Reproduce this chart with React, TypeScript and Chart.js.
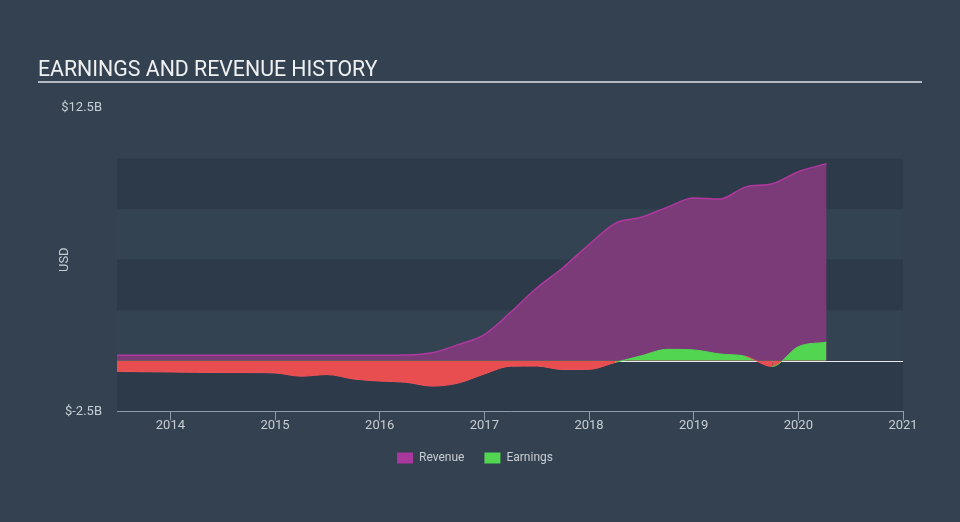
import React, { useEffect, useRef } from 'react';
import { Chart, registerables } from 'chart.js';

Chart.register(...registerables);

const TITLE = 'EARNINGS AND REVENUE HISTORY';
const AXIS_TITLE = 'USD';

// decimal years
const dates = [
  2013.49, 2013.75, 2014.0, 2014.25, 2014.5, 2014.75, 2015.0, 2015.25, 2015.5, 2015.75,
  2016.0, 2016.25, 2016.5, 2016.75, 2017.0, 2017.25, 2017.5, 2017.75, 2018.0, 2018.25,
  2018.5, 2018.75, 2019.0, 2019.25, 2019.5, 2019.75, 2020.0, 2020.27,
];

// billions USD
const revenue = [
  0.28, 0.28, 0.28, 0.28, 0.28, 0.28, 0.28, 0.28, 0.28, 0.28,
  0.28, 0.29, 0.4, 0.8, 1.3, 2.4, 3.6, 4.6, 5.75, 6.8,
  7.1, 7.6, 8.05, 8.0, 8.6, 8.75, 9.35, 9.75,
];

const earnings = [
  -0.52, -0.54, -0.55, -0.57, -0.58, -0.58, -0.6, -0.76, -0.68, -0.9,
  -1.0, -1.06, -1.25, -1.1, -0.65, -0.27, -0.26, -0.43, -0.42, -0.08,
  0.25, 0.57, 0.54, 0.34, 0.22, -0.28, 0.7, 0.92,
];

const yearTicks = [2014, 2015, 2016, 2017, 2018, 2019, 2020, 2021];
const yTicks = [-2.5, 12.5];
const darkBands: [number, number][] = [
  [10, 7.5],
  [5, 2.5],
  [0, -2.5],
];
const lightBands: [number, number][] = [
  [7.5, 5],
  [2.5, 0],
];

const X_MIN = 2013.49;
const X_MAX = 2021;
const Y_MIN = -2.5;
const Y_MAX = 12.5;

const BG = '#334150';
const LIGHT = '#344352';
const DARK = '#2d3a4a';
const TEXT = '#c9ced4';
const REV_FILL = '#7b3a78';
const REV_LINE = '#b0389f';
const REV_LEGEND = '#a8389c';
const EARN_POS = '#52d652';
const EARN_NEG = '#e84e50';
const FONT = 'Roboto';

const decor = {
  id: 'decor',
  beforeDraw(chart: any) {
    const { ctx, chartArea, scales } = chart;
    const y = scales.y;
    ctx.save();
    ctx.fillStyle = BG;
    ctx.fillRect(0, 0, chart.width, chart.height);
    const w = chartArea.right - chartArea.left;
    ctx.fillStyle = LIGHT;
    for (const [a, b] of lightBands) {
      const y0 = y.getPixelForValue(a);
      const y1 = y.getPixelForValue(b);
      ctx.fillRect(chartArea.left, y0, w, y1 - y0);
    }
    ctx.fillStyle = DARK;
    for (const [a, b] of darkBands) {
      const y0 = y.getPixelForValue(a);
      const y1 = y.getPixelForValue(b);
      ctx.fillRect(chartArea.left, y0, w, y1 - y0);
    }
    // title
    ctx.font = `400 21.3px ${FONT}`;
    ctx.fillStyle = '#eef0f2';
    ctx.textBaseline = 'alphabetic';
    ctx.textAlign = 'left';
    ctx.fillText(TITLE, 38, 76);
    ctx.strokeStyle = '#b5bac0';
    ctx.lineWidth = 2;
    ctx.beginPath();
    ctx.moveTo(38, 82);
    ctx.lineTo(922, 82);
    ctx.stroke();
    ctx.restore();
  },
  beforeDatasetsDraw(chart: any) {
    const { ctx, chartArea, scales } = chart;
    const yz = Math.round(scales.y.getPixelForValue(0)) + 0.5;
    ctx.save();
    ctx.strokeStyle = '#e8eaed';
    ctx.lineWidth = 1;
    ctx.beginPath();
    ctx.moveTo(chartArea.left, yz);
    ctx.lineTo(chartArea.right, yz);
    ctx.stroke();
    ctx.restore();
  },
};

export default function App() {
  const ref = useRef<HTMLCanvasElement>(null);

  useEffect(() => {
    if (!ref.current) return;
    const legendColors = [EARN_POS, REV_LEGEND];
    const chart = new Chart(ref.current, {
      type: 'line',
      data: {
        datasets: [
          {
            label: 'Earnings',
            data: dates.map((d, i) => ({ x: d, y: earnings[i] })),
            borderColor: EARN_POS,
            backgroundColor: EARN_POS,
            borderWidth: 1,
            pointRadius: 0,
            cubicInterpolationMode: 'monotone',
            fill: { target: 'origin', above: EARN_POS, below: EARN_NEG },
            segment: {
              borderColor: (c: any) =>
                c.p0.parsed.y + c.p1.parsed.y < 0 ? '#f0535a' : EARN_POS,
            },
          } as any,
          {
            label: 'Revenue',
            data: dates.map((d, i) => ({ x: d, y: revenue[i] })),
            borderColor: REV_LINE,
            backgroundColor: REV_FILL,
            borderWidth: 1.5,
            pointRadius: 0,
            cubicInterpolationMode: 'monotone',
            fill: 'origin',
          } as any,
        ],
      },
      options: {
        animation: false,
        responsive: false,
        devicePixelRatio: 1,
        layout: { padding: { top: 108, right: 57, bottom: 48, left: 47 } },
        plugins: {
          title: { display: false },
          tooltip: { enabled: false },
          legend: {
            position: 'bottom',
            reverse: true,
            labels: {
              color: TEXT,
              font: { family: FONT, size: 12 },
              boxWidth: 16,
              boxHeight: 11,
              padding: 20,
              generateLabels: (c: any) =>
                (Chart.defaults.plugins.legend.labels as any)
                  .generateLabels(c)
                  .map((l: any) => ({
                    ...l,
                    fillStyle: legendColors[l.datasetIndex],
                    strokeStyle: legendColors[l.datasetIndex],
                    lineWidth: 0,
                  })),
            },
          },
        },
        scales: {
          x: {
            type: 'linear',
            min: X_MIN,
            max: X_MAX,
            afterBuildTicks: (s: any) => {
              s.ticks = yearTicks.map((v) => ({ value: v }));
            },
            ticks: {
              color: TEXT,
              font: { family: FONT, size: 13 },
              padding: -2,
              maxRotation: 0,
              callback: (v: any) => String(v),
            },
            grid: {
              display: true,
              drawOnChartArea: false,
              drawTicks: true,
              tickLength: 9,
              color: '#8f9cab',
            },
            border: { display: true, color: '#8f9cab', width: 1 },
          },
          y: {
            type: 'linear',
            min: Y_MIN,
            max: Y_MAX,
            afterBuildTicks: (s: any) => {
              s.ticks = yTicks.map((v) => ({ value: v }));
            },
            afterFit: (s: any) => {
              s.width = 70;
            },
            ticks: {
              color: TEXT,
              font: { family: FONT, size: 13 },
              padding: 15,
              callback: (v: any) => `$${v}B`,
            },
            grid: { display: false, drawTicks: false },
            border: { display: false },
            title: {
              display: true,
              text: AXIS_TITLE,
              color: TEXT,
              font: { family: FONT, size: 13 },
              padding: { top: 10, bottom: 0 },
            },
          },
        },
      } as any,
      plugins: [decor],
    });
    return () => chart.destroy();
  }, []);

  return (
    <div style={{ position: 'fixed', left: 0, top: 0, width: 960, height: 522, background: BG }}>
      <canvas ref={ref} width={960} height={522} style={{ width: 960, height: 522, display: 'block' }} />
    </div>
  );
}
